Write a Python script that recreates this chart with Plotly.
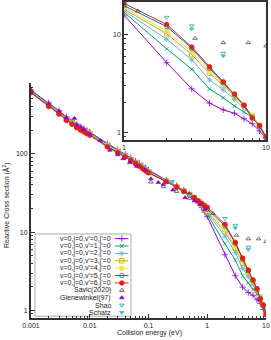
import plotly.graph_objects as go

# ---------------- data ----------------
energy = [0.001, 0.002, 0.003, 0.004, 0.005, 0.006, 0.007, 0.008, 0.009,
          0.01, 0.02, 0.03, 0.04, 0.05, 0.06, 0.07, 0.08, 0.09,
          0.1, 0.2, 0.3, 0.4, 0.5, 0.6, 0.7, 0.8, 0.9,
          1, 2, 3, 4, 5, 6, 7, 8, 9, 10]

sig_v0 = [645, 445, 355, 295, 262, 238, 221, 208, 198,
          189, 135, 113, 99, 89, 81, 75, 70, 66,
          62, 46, 39, 34, 30.5, 27, 23.5, 20.5, 18,
          15.7, 5.13, 2.77, 1.98, 1.69, 1.56, 1.37, 1.22, 1.03, 0.87]
sig_v1 = [632, 432, 344, 285, 254, 231, 214, 202, 192,
          184, 131, 109, 96, 86, 79, 73, 68, 64,
          60, 45.5, 38.5, 34, 30.5, 27.5, 24.5, 21.5, 19,
          16.8, 7.1, 4.4, 2.77, 2.25, 1.85, 1.6, 1.42, 1.15, 0.88]
sig_v2 = [625, 425, 339, 281, 250, 228, 211, 199, 189,
          181, 129, 107, 94, 85, 78, 72, 67, 63,
          59, 45, 38, 33.5, 30.3, 27.6, 25, 22, 19.6,
          17.4, 8.9, 5.5, 3.42, 2.7, 2.17, 1.75, 1.45, 1.15, 0.9]
sig_v3 = [620, 420, 335, 278, 247, 225, 208, 196, 187,
          179, 127, 106, 93, 84, 77, 71, 66, 62,
          58.5, 44.8, 37.8, 33.3, 30.2, 27.6, 25, 22.5, 20.2,
          18.1, 10.1, 6.2, 4.0, 3.0, 2.3, 1.85, 1.48, 1.17, 0.9]
sig_v4 = [615, 415, 331, 274, 244, 222, 206, 194, 185,
          177, 126, 105, 92.5, 83.5, 76.5, 70.5, 65.5, 61.5,
          58, 44.5, 37.7, 33.2, 30.1, 27.6, 25, 22.8, 20.8,
          18.9, 10.8, 6.6, 4.26, 3.1, 2.35, 1.85, 1.48, 1.17, 0.9]
sig_v5 = [610, 410, 327, 271, 241, 219, 203, 192, 183,
          175, 124, 104, 92, 83, 76, 70, 65, 61,
          57.5, 44.2, 37.6, 33.1, 30, 27.5, 25, 23, 21.3,
          19.6, 12.0, 7.2, 4.5, 3.2, 2.4, 1.88, 1.42, 1.15, 0.88]
sig_v6 = [600, 400, 320, 265, 237, 215, 200, 189, 180,
          172, 122, 103, 91, 82, 75, 69, 64, 60,
          57, 44, 37.5, 33, 30, 27.5, 25, 23.3, 21.9,
          20.7, 12.6, 7.42, 4.67, 3.28, 2.46, 1.89, 1.39, 1.17, 0.9]

savic_e = [0.11, 0.18, 0.3, 0.5, 1.25, 3.16, 5, 7.5, 10]
savic_s = [43.5, 38, 33, 27, 17.3, 9.1, 8.2, 8.2, 7.6]

glen_e = [0.001, 0.002, 0.003, 0.004, 0.0055, 0.006, 0.007, 0.008, 0.01,
          0.015, 0.022, 0.03, 0.037, 0.048, 0.063, 0.087, 0.11, 0.147,
          0.178, 0.26, 0.42, 0.6, 0.75, 0.91]
glen_s = [650, 440, 350, 290, 283, 235, 220, 205, 180,
          148, 111, 97, 86.5, 77, 69, 62, 48, 43,
          40.6, 34.5, 27.5, 25, 22.5, 19.5]

shao_e = [0.25, 0.5, 2, 3, 5]
shao_s = [44, 29.5, 14.9, 12.2, 6.4]

schatz_e = [0.25, 0.5, 3, 5]
schatz_s = [43, 29, 11.3, 6.0]

theory_names = ["v=0,j=0,v'=0,j'=0", "v=0,j=0,v'=1,j'=0", "v=0,j=0,v'=2,j'=0",
                "v=0,j=0,v'=3,j'=0", "v=0,j=0,v'=4,j'=0", "v=0,j=0,v'=5,j'=0",
                "v=0,j=0,v'=6,j'=0"]
ref_names = ["Savic(2020)", "Glenewinkel(97)", "Shao", "Schatz"]

x_ticks = [0.001, 0.01, 0.1, 1, 10]
x_ticklabels = ["0.001", "0.01", "0.1", "1", "10"]
y_ticks = [1, 10, 100]
y_ticklabels = ["1", "10", "100"]

# ---------------- styles ----------------
theory = [sig_v0, sig_v1, sig_v2, sig_v3, sig_v4, sig_v5, sig_v6]
colors = ["#9400d3", "#009e73", "#56b4e9", "#e69f00", "#f0e442", "#0072b2", "#e51e10"]
symbols = ["cross-thin", "x-thin", "asterisk", "square-open", "square", "circle-open", "circle"]
msizes = [4.5, 4, 4.5, 4.5, 4, 4.5, 4.5]
refs = [(savic_e, savic_s), (glen_e, glen_s), (shao_e, shao_s), (schatz_e, schatz_s)]
ref_colors = ["#333333", "#9400d3", "#009e73", "#56b4e9"]
ref_symbols = ["triangle-up-open", "triangle-up", "triangle-down-open", "triangle-down"]

FONT = "Liberation Sans, Arial, sans-serif"
TXT = "#222222"

fig = go.Figure()


def add_all(xa, ya):
    for s, c, sym, ms in zip(theory, colors, symbols, msizes):
        fig.add_trace(go.Scatter(
            x=energy, y=s, mode="lines+markers", xaxis=xa, yaxis=ya,
            line=dict(color=c, width=1),
            marker=dict(symbol=sym, size=ms, color=c, line=dict(color=c, width=0.8)),
            showlegend=False, cliponaxis=True))
    for (ex, sy), c, sym in zip(refs, ref_colors, ref_symbols):
        fig.add_trace(go.Scatter(
            x=ex, y=sy, mode="markers", xaxis=xa, yaxis=ya,
            marker=dict(symbol=sym, size=4, color=c, line=dict(color=c, width=0.7)),
            showlegend=False, cliponaxis=True))


add_all("x", "y")
add_all("x2", "y2")

# ---------------- custom legend (overlay pixel axis) ----------------
leg_names = theory_names + ref_names
row0, row_step = 211.3, 9.93
txt_x, ln_x0, ln_x1, mk_x = 112.5, 115, 128.5, 121.8
shapes = []
annotations = []
for i, name in enumerate(leg_names):
    yy = row0 + i * row_step
    annotations.append(dict(x=txt_x, y=yy, xref="x3", yref="y3", text=name,
                            showarrow=False, xanchor="right", yanchor="middle",
                            font=dict(size=7, color=TXT, family=FONT)))
    if i < len(theory_names):
        c, sym, ms = colors[i], symbols[i], msizes[i]
        shapes.append(dict(type="line", xref="x3", yref="y3", x0=ln_x0, x1=ln_x1,
                           y0=yy, y1=yy, line=dict(color=c, width=1)))
    else:
        c, sym, ms = ref_colors[i - 7], ref_symbols[i - 7], 4
    fig.add_trace(go.Scatter(x=[mk_x], y=[yy], mode="markers", xaxis="x3", yaxis="y3",
                             marker=dict(symbol=sym, size=ms, color=c, line=dict(color=c, width=0.8)),
                             showlegend=False, hoverinfo="skip"))

shapes.append(dict(type="rect", xref="x3", yref="y3", x0=35, x1=131, y0=205, y1=315.5,
                   line=dict(color="#aaaaaa", width=1), fillcolor="rgba(255,255,255,0)",
                   layer="below"))

# axis titles as annotations
annotations.append(dict(x=(149 - 31) / 235, y=-(333 - 318) / 316, xref="paper", yref="paper",
                        xanchor="center", yanchor="middle",
                        text="Collision energy (eV)", showarrow=False,
                        font=dict(size=7, color=TXT, family=FONT)))
annotations.append(dict(x=(6 - 31) / 235, y=(318 - 205) / 316, xref="paper", yref="paper",
                        xanchor="center", yanchor="middle",
                        text="Reactive Cross section (Å<sup>2</sup>)", showarrow=False,
                        textangle=-90, font=dict(size=7, color=TXT, family=FONT)))

axis_common = dict(type="log", ticks="inside", showgrid=False, zeroline=False,
                   tickfont=dict(size=7, color=TXT, family=FONT),
                   linecolor="#333333", showline=True, tickcolor="#333333",
                   ticklen=4, tickwidth=1, automargin=False)

fig.update_layout(
    width=271, height=340,
    margin=dict(l=31, r=5, t=2, b=22, autoexpand=False),
    paper_bgcolor="white", plot_bgcolor="white",
    showlegend=False,
    xaxis=dict(axis_common, domain=[0, 1], anchor="y", range=[-3, 1],
               tickvals=x_ticks, ticktext=x_ticklabels, linewidth=2,
               minor=dict(ticks="inside", ticklen=2, tickcolor="#333333", dtick="D1")),
    yaxis=dict(axis_common, domain=[0, 0.7437], anchor="x", range=[-0.097, 2.903],
               tickvals=y_ticks, ticktext=y_ticklabels, linewidth=2,
               minor=dict(ticks="inside", ticklen=2, tickcolor="#333333", dtick="D1")),
    xaxis2=dict(axis_common, domain=[0.3957, 1], anchor="y2", range=[0, 1],
                tickvals=[1, 10], ticktext=["1", "10"], linewidth=1.5, mirror=True,
                minor=dict(ticks="inside", ticklen=2, tickcolor="#333333", dtick="D1")),
    yaxis2=dict(axis_common, domain=[0.5633, 1], anchor="x2", range=[-0.08, 1.33],
                tickvals=[1, 10], ticktext=["1", "10"], linewidth=1.5, mirror=True,
                minor=dict(ticks="inside", ticklen=2, tickcolor="#333333", dtick="D1")),
    xaxis3=dict(domain=[0, 1], anchor="y3", range=[31, 266], visible=False, overlaying="x"),
    yaxis3=dict(domain=[0, 1], anchor="x3", range=[318, 2], visible=False, overlaying="y"),
    shapes=shapes,
    annotations=annotations,
)

fig.write_html("out.html", config={"displayModeBar": False},
               post_script="document.body.style.margin='0';")
